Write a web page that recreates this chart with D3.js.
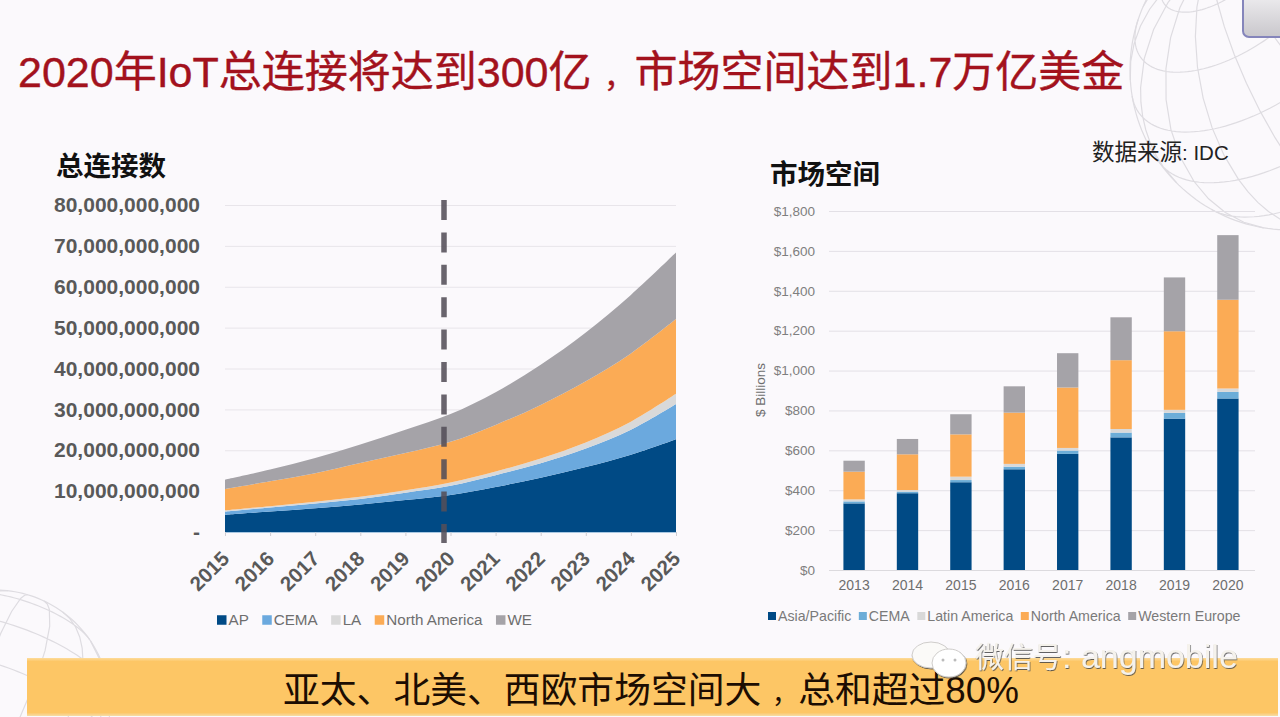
<!DOCTYPE html>
<html>
<head>
<meta charset="utf-8">
<script src="https://cdn.jsdelivr.net/npm/d3@7"></script>
<style>
  html, body { margin: 0; padding: 0; background: #fbf9fc; }
  svg { display: block; }
  text { font-family: "Liberation Sans", "Noto Sans CJK SC", sans-serif; }
</style>
</head>
<body>
<script>
// connections, in billions, thickness of each band per year
const connYears = ["2015","2016","2017","2018","2019","2020","2021","2022","2023","2024","2025"];
const connAP    = [4.2, 5.0, 5.8, 6.7, 7.8, 9.05, 11.0, 13.3, 15.9, 18.9, 22.7];
const connCEMA  = [0.8, 1.0, 1.2, 1.4, 1.8, 2.25, 2.9, 3.5, 4.5, 6.1, 8.6];
const connLA    = [0.3, 0.3, 0.4, 0.5, 0.6, 0.8, 0.9, 1.2, 1.5, 2.0, 2.5];
const connNA    = [5.2, 6.1, 7.0, 8.3, 9.1, 9.95, 11.4, 13.1, 15.0, 16.7, 18.3];
const connWE    = [2.3, 2.9, 3.7, 4.5, 5.7, 6.8, 8.0, 9.8, 11.9, 14.3, 16.3];
const connNames = ["AP", "CEMA", "LA", "North America", "WE"];
const connTicks = [0, 10, 20, 30, 40, 50, 60, 70, 80];

// market, in $ billions
const marketYears = ["2013","2014","2015","2016","2017","2018","2019","2020"];
const marketAP    = [334, 385, 440, 505, 582, 665, 759, 860];
const marketCEMA  = [10, 8, 11, 13, 17, 24, 29, 33];
const marketLA    = [10, 8, 17, 14, 13, 18, 15, 17];
const marketNA    = [139, 179, 212, 257, 303, 345, 394, 445];
const marketWE    = [55, 77, 101, 132, 172, 215, 270, 324];
const marketNames = ["Asia/Pacific", "CEMA", "Latin America", "North America", "Western Europe"];
const marketTicks = [0, 200, 400, 600, 800, 1000, 1200, 1400, 1600, 1800];

const connColors = ["#004a85", "#6ba9de", "#d9d9d9", "#fbab55", "#a5a3a8"];
const marketColors = ["#004a85", "#6cadd8", "#d9d9d9", "#fbab55", "#a5a3a8"];

const svg = d3.select("body").append("svg").attr("width", 1280).attr("height", 717);
const defs = svg.append("defs");

// faint globe line work in the corners of the slide
function globe(cx, cy, r, rot, step) {
  const proj = d3.geoOrthographic().translate([cx, cy]).scale(r).rotate(rot).clipAngle(90);
  const path = d3.geoPath(proj);
  const g = svg.append("g").attr("fill", "none").attr("stroke", "#dedce1").attr("stroke-width", 1.2);
  g.append("path").datum(d3.geoGraticule().step([step, step])()).attr("d", path);
  g.append("path").datum({ type: "Sphere" }).attr("d", path);
}
globe(1290, 70, 160, [25, -30, 35], 22);
globe(-5, 705, 115, [40, 20, -20], 25);

// the button cut off in the top right corner
const btn = defs.append("linearGradient").attr("id", "btn").attr("x2", 0).attr("y2", 1);
btn.append("stop").attr("offset", 0).attr("stop-color", "#f4f3f5");
btn.append("stop").attr("offset", 1).attr("stop-color", "#c9c7cc");
svg.append("rect").attr("x", 1243).attr("y", -12).attr("width", 60).attr("height", 49).attr("rx", 6)
  .attr("fill", "url(#btn)").attr("stroke", "#8585bb").attr("stroke-width", 2);

// the slide's comma is small and stands in the middle of a full cell
function withComma(sel, before, after, size) {
  const full = +sel.attr("font-size");
  const pad = (full - size) / 2;
  sel.append("tspan").text(before);
  sel.append("tspan").attr("dx", pad + size * 0.2).attr("font-size", size).text("，");
  sel.append("tspan").attr("dx", pad - size * 0.2).text(after);
}

svg.append("text").attr("x", 18).attr("y", 87)
  .attr("fill", "#a3121d").attr("font-size", 43)
  .attr("stroke", "#a3121d").attr("stroke-width", 0.4)
  .call(withComma, "2020年IoT总连接将达到300亿", "市场空间达到1.7万亿美金", 30);

function heading(x, y, t) {
  svg.append("text").attr("x", x).attr("y", y).attr("fill", "#111")
    .attr("font-size", 27.5).attr("font-weight", 700).text(t);
}
heading(56, 176, "总连接数");
heading(770, 184, "市场空间");
const source = svg.append("text").attr("x", 1092).attr("y", 160).attr("fill", "#222").attr("font-size", 22.5);
source.append("tspan").text("数据来源");
source.append("tspan").attr("font-size", 20.5).text(": IDC");

// legends flow left to right, each entry placed after the last text
function legend(x, y, names, colors, size, box, gap, col) {
  names.forEach((n, i) => {
    svg.append("rect").attr("x", x).attr("y", y - box / 2).attr("width", box).attr("height", box)
      .attr("fill", colors[i]);
    const t = svg.append("text").attr("x", x + box + 2).attr("y", y).attr("dy", "0.35em")
      .attr("fill", col).attr("font-size", size).text(n);
    x += box + 2 + t.node().getComputedTextLength() + gap;
  });
}

// ---- left chart: stacked area ----
const connRows = connYears.map((y, i) => ({
  year: y, AP: connAP[i], CEMA: connCEMA[i], LA: connLA[i], "North America": connNA[i], WE: connWE[i]
}));
const x1 = d3.scalePoint().domain(connYears).range([225, 676]);
const y1 = d3.scaleLinear().domain([0, 80]).range([532, 205]);

svg.append("g").attr("transform", "translate(225,0)")
  .call(d3.axisLeft(y1).tickValues(connTicks).tickSize(-451).tickPadding(25)
    .tickFormat(v => v === 0 ? "-" : d3.format(",")(v * 1e9)))
  .call(g => g.select(".domain").remove())
  .call(g => g.selectAll("line").attr("stroke", "#e8e5ea"))
  .call(g => g.selectAll("text").attr("fill", "#595959").attr("font-size", 21)
    .attr("font-weight", 700).attr("font-family", "Liberation Sans"));

const connStack = d3.stack().keys(connNames)(connRows);
const area = d3.area()
  .x(d => x1(d.data.year)).y0(d => y1(d[0])).y1(d => y1(d[1]))
  .curve(d3.curveCatmullRom);
svg.append("g").selectAll("path").data(connStack).join("path")
  .attr("d", area).attr("fill", (d, i) => connColors[i]);

svg.append("g").attr("transform", "translate(0,532)")
  .call(d3.axisBottom(x1).tickSize(4))
  .call(g => g.select(".domain").attr("stroke", "#a9c8e2"))
  .call(g => g.selectAll("line").attr("stroke", "#cfcdd2"))
  .call(g => g.selectAll("text").attr("fill", "#595959").attr("font-size", 20.5)
    .attr("font-weight", 700).attr("font-family", "Liberation Sans")
    .attr("text-anchor", "end").attr("y", 0).attr("dy", 0)
    .attr("transform", "translate(5,28) rotate(-45)"));

// the marker on the slide sits a little left of the 2020 tick
svg.append("line")
  .attr("x1", x1("2020") - 6.5).attr("x2", x1("2020") - 6.5)
  .attr("y1", y1(80) - 5).attr("y2", y1(0) + 11)
  .attr("stroke", "#544e59").attr("stroke-opacity", 0.88)
  .attr("stroke-width", 5.5).attr("stroke-dasharray", "20 12.4");

legend(217, 620, connNames, connColors, 15.2, 9.5, 13.5, "#6e6e6e");

// ---- right chart: stacked bars ----
const marketRows = marketYears.map((y, i) => ({
  year: y, "Asia/Pacific": marketAP[i], CEMA: marketCEMA[i], "Latin America": marketLA[i],
  "North America": marketNA[i], "Western Europe": marketWE[i]
}));
const x2 = d3.scaleBand().domain(marketYears).range([829, 1253]).paddingInner(0.6).paddingOuter(0.27);
const y2 = d3.scaleLinear().domain([0, 1800]).range([570, 211]);

svg.append("g").attr("transform", "translate(829,0)")
  .call(d3.axisLeft(y2).tickValues(marketTicks).tickSize(-426).tickPadding(14)
    .tickFormat(d3.format("$,")))
  .call(g => g.select(".domain").remove())
  .call(g => g.selectAll("line").attr("stroke", "#e3e0e6"))
  .call(g => g.selectAll("text").attr("fill", "#7f7f7f").attr("font-size", 13.5)
    .attr("font-family", "Liberation Sans"));

const marketStack = d3.stack().keys(marketNames)(marketRows);
svg.append("g").selectAll("g").data(marketStack).join("g")
  .attr("fill", (d, i) => marketColors[i])
  .selectAll("rect").data(d => d).join("rect")
  .attr("x", d => x2(d.data.year)).attr("width", x2.bandwidth())
  .attr("y", d => y2(d[1])).attr("height", d => y2(d[0]) - y2(d[1]));

svg.append("g").attr("transform", "translate(0,570)")
  .call(d3.axisBottom(x2).tickSize(0).tickPadding(10))
  .call(g => g.select(".domain").attr("stroke", "#dcdade").attr("d", "M829,0.5H1255"))
  .call(g => g.selectAll("text").attr("fill", "#6e6e6e").attr("font-size", 14)
    .attr("font-family", "Liberation Sans"));

svg.append("text").attr("transform", "translate(765,390) rotate(-90)")
  .attr("text-anchor", "middle").attr("fill", "#6e6e6e").attr("font-size", 13.5).text("$ Billions");

legend(768, 616, marketNames, marketColors, 14.2, 8, 7.5, "#7a7a7a");

// ---- bottom banner and watermark ----
const band = defs.append("linearGradient").attr("id", "band").attr("x2", 0).attr("y2", 1);
band.append("stop").attr("offset", 0).attr("stop-color", "#fddc9b");
band.append("stop").attr("offset", 0.06).attr("stop-color", "#fdc665");
band.append("stop").attr("offset", 0.94).attr("stop-color", "#fdc665");
band.append("stop").attr("offset", 1).attr("stop-color", "#f6dca6");
svg.append("rect").attr("x", 27).attr("y", 658).attr("width", 1251).attr("height", 58).attr("fill", "url(#band)");
svg.append("text").attr("x", 283).attr("y", 703).attr("fill", "#1c0d02")
  .attr("font-size", 36.8)
  .call(withComma, "亚太、北美、西欧市场空间大", "总和超过80%", 26);

const shadow = defs.append("filter").attr("id", "wm");
shadow.append("feDropShadow").attr("dx", 0.7).attr("dy", 1).attr("stdDeviation", 0.6)
  .attr("flood-color", "#4a4a4a").attr("flood-opacity", 0.85);
const mark = svg.append("g").attr("filter", "url(#wm)");
mark.append("ellipse").attr("cx", 931).attr("cy", 655).attr("rx", 19).attr("ry", 13)
  .attr("fill", "#fbfaf8").attr("stroke", "#cfcdcb");
mark.append("ellipse").attr("cx", 949).attr("cy", 663).attr("rx", 17).attr("ry", 14)
  .attr("fill", "#fff").attr("stroke", "#cfcdcb");
mark.selectAll(".dot").data([-6, 6]).join("circle").attr("class", "dot")
  .attr("cx", d => 949 + d).attr("cy", 660).attr("r", 1.5).attr("fill", "#bbb");
const wmText = mark.append("text").attr("x", 975).attr("y", 668).attr("fill", "#f5f2ec").attr("font-size", 29);
wmText.append("tspan").text("微信号");
wmText.append("tspan").attr("font-size", 34).text(": angmobile");
</script>
</body>
</html>
